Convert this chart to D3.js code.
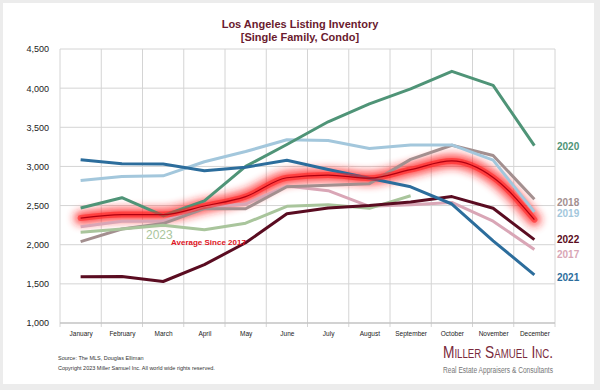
<!DOCTYPE html>
<html>
<head>
<meta charset="utf-8">
<script src="https://cdn.jsdelivr.net/npm/d3@7"></script>
<style>
  body { margin: 0; background: #ececec; }
  svg { display: block; }
  text { font-family: "Liberation Sans", Arial, sans-serif; }
</style>
</head>
<body>
<script>
// chart data //
const months = ["January", "February", "March", "April", "May", "June",
                "July", "August", "September", "October", "November", "December"];
const yTicks = [1000, 1500, 2000, 2500, 3000, 3500, 4000, 4500];

const y2017 = [2230, 2300, 2300, 2480, 2520, 2750, 2690, 2490, 2510, 2540, 2300, 1940];
const y2018 = [2040, 2200, 2270, 2460, 2460, 2740, 2760, 2780, 3090, 3270, 3140, 2580];
const y2019 = [2820, 2870, 2880, 3060, 3190, 3340, 3330, 3230, 3275, 3275, 3080, 2420];
const y2020 = [2470, 2600, 2370, 2560, 3000, 3280, 3570, 3800, 3990, 4215, 4035, 3265];
const y2021 = [3085, 3035, 3030, 2945, 2990, 3080, 2960, 2850, 2740, 2520, 2050, 1615];
const y2022 = [1590, 1595, 1530, 1745, 2025, 2395, 2470, 2500, 2545, 2615, 2465, 2065];
const y2023 = [2160, 2200, 2250, 2190, 2275, 2490, 2510, 2465, 2625];
const avgSince2017 = [2340, 2385, 2385, 2495, 2615, 2855, 2890, 2850, 2960, 3070, 2860, 2320];

const series = [
  { name: "2017", values: y2017, color: "#d9a6b6" },
  { name: "2018", values: y2018, color: "#a38f8f" },
  { name: "2023", values: y2023, color: "#a9c59c" },
  { name: "2022", values: y2022, color: "#5a0c21" },
  { name: "2019", values: y2019, color: "#a3c7dc" },
  { name: "2020", values: y2020, color: "#4f9477" },
  { name: "2021", values: y2021, color: "#2c6d9c" }
];

// right hand labels //
const endLabels = [
  { name: "2020", y: 146, color: "#4f9477" },
  { name: "2018", y: 202, color: "#a38f8f" },
  { name: "2019", y: 213, color: "#a3c7dc" },
  { name: "2022", y: 239, color: "#5a0c21" },
  { name: "2017", y: 254, color: "#d9a6b6" },
  { name: "2021", y: 277, color: "#2c6d9c" }
];

const W = 600, H = 390;
const plotLeft = 60, plotRight = 555, plotTop = 49, plotBottom = 323;

const svg = d3.select("body").append("svg")
  .attr("width", W).attr("height", H);

// frame //
svg.append("rect").attr("x", 3).attr("y", 3)
  .attr("width", 591).attr("height", 381).attr("fill", "#fff");

const defs = svg.append("defs");
const glow = defs.append("filter").attr("id", "glow")
  .attr("x", "-20%").attr("y", "-50%").attr("width", "140%").attr("height", "200%");
glow.append("feGaussianBlur").attr("stdDeviation", 4);

// title //
svg.append("text").attr("x", 300).attr("y", 28).attr("text-anchor", "middle")
  .attr("font-size", 11).attr("font-weight", "bold").attr("fill", "#6a1a2e")
  .text("Los Angeles Listing Inventory");
svg.append("text").attr("x", 300).attr("y", 41).attr("text-anchor", "middle")
  .attr("font-size", 11).attr("font-weight", "bold").attr("fill", "#6a1a2e")
  .text("[Single Family, Condo]");

// scales //
const x = d3.scalePoint().domain(months).range([plotLeft, plotRight]).padding(0.5);
const step = x.step();
const y = d3.scaleLinear().domain([1000, 4500]).range([plotBottom, plotTop]);

// grid //
const grid = svg.append("g");
grid.selectAll(".h").data(yTicks).enter().append("line")
  .attr("x1", plotLeft).attr("x2", plotRight)
  .attr("y1", d => y(d)).attr("y2", d => y(d))
  .attr("stroke", "#d4d4d4").attr("stroke-width", 1);
const vLines = months.map(m => x(m) - step / 2).concat([x(months[11]) + step / 2]);
grid.selectAll(".v").data(vLines).enter().append("line")
  .attr("x1", d => d).attr("x2", d => d)
  .attr("y1", plotTop).attr("y2", plotBottom + 4)
  .attr("stroke", "#d4d4d4").attr("stroke-width", 1);
grid.append("line").attr("x1", plotLeft).attr("x2", plotRight)
  .attr("y1", plotBottom).attr("y2", plotBottom).attr("stroke", "#bbb");

// axes //
const yAxis = svg.append("g").attr("transform", "translate(" + (plotLeft - 8) + ",0)")
  .call(d3.axisLeft(y).tickValues(yTicks).tickSize(0).tickFormat(d3.format(",")));
yAxis.select(".domain").remove();
yAxis.selectAll("text").attr("font-size", 9).attr("fill", "#222")
  .attr("font-family", "Liberation Sans, Arial, sans-serif");

const xAxis = svg.append("g").attr("transform", "translate(0," + (plotBottom + 5) + ")")
  .call(d3.axisBottom(x).tickSize(0));
xAxis.select(".domain").remove();
xAxis.selectAll("text").attr("font-size", 6.5).attr("fill", "#222")
  .attr("font-family", "Liberation Sans, Arial, sans-serif");

// lines //
const line = d3.line()
  .x((d, i) => x(months[i]))
  .y(d => y(d));
const smooth = d3.line()
  .x((d, i) => x(months[i]))
  .y(d => y(d))
  .curve(d3.curveMonotoneX);

svg.append("path").datum(avgSince2017)
  .attr("fill", "none").attr("stroke", "#ff1a1a").attr("stroke-width", 13)
  .attr("stroke-linecap", "round").attr("stroke-linejoin", "round")
  .attr("opacity", 0.8).attr("filter", "url(#glow)")
  .attr("d", smooth);

svg.selectAll(".series").data(series).enter().append("path")
  .attr("fill", "none")
  .attr("stroke", d => d.color)
  .attr("stroke-width", 3)
  .attr("stroke-linejoin", "round")
  .attr("d", d => line(d.values));

svg.append("path").datum(avgSince2017)
  .attr("fill", "none").attr("stroke", "#ff2020").attr("stroke-width", 6)
  .attr("stroke-linecap", "round")
  .attr("opacity", 0.55).attr("d", smooth);
svg.append("path").datum(avgSince2017)
  .attr("fill", "none").attr("stroke", "#b00010").attr("stroke-width", 1.2)
  .attr("d", smooth);

// labels //
svg.selectAll(".lbl").data(endLabels).enter().append("text")
  .attr("x", 557).attr("y", d => d.y + 4)
  .attr("font-size", 10).attr("font-weight", "bold")
  .attr("fill", d => d.color).text(d => d.name);

svg.append("text").attr("x", 146).attr("y", 239)
  .attr("font-size", 12).attr("fill", "#a9c59c")
  .text("2023");
svg.append("text").attr("x", 171).attr("y", 245)
  .attr("font-size", 8).attr("font-weight", "bold").attr("fill", "#e0141e")
  .text("Average  Since 2017");

// footer //
svg.append("text").attr("x", 58).attr("y", 360).attr("font-size", 5.5).attr("fill", "#333")
  .text("Source: The MLS, Douglas Elliman");
svg.append("text").attr("x", 58).attr("y", 370).attr("font-size", 5.5).attr("fill", "#333")
  .text("Copyright 2023 Miller Samuel Inc.  All world wide rights reserved.");

svg.append("text").attr("x", 553).attr("y", 358).attr("text-anchor", "end")
  .attr("font-family", "Liberation Serif, DejaVu Serif, serif")
  .attr("font-size", 17).attr("font-variant", "small-caps").attr("fill", "#7a2a3c")
  .attr("textLength", 110).attr("lengthAdjust", "spacingAndGlyphs")
  .text("Miller Samuel Inc.");
svg.append("text").attr("x", 553).attr("y", 373).attr("text-anchor", "end")
  .attr("font-family", "Liberation Serif, DejaVu Serif, serif")
  .attr("font-size", 8.5).attr("fill", "#777")
  .attr("textLength", 110).attr("lengthAdjust", "spacingAndGlyphs")
  .text("Real Estate Appraisers & Consultants");
</script>
</body>
</html>
